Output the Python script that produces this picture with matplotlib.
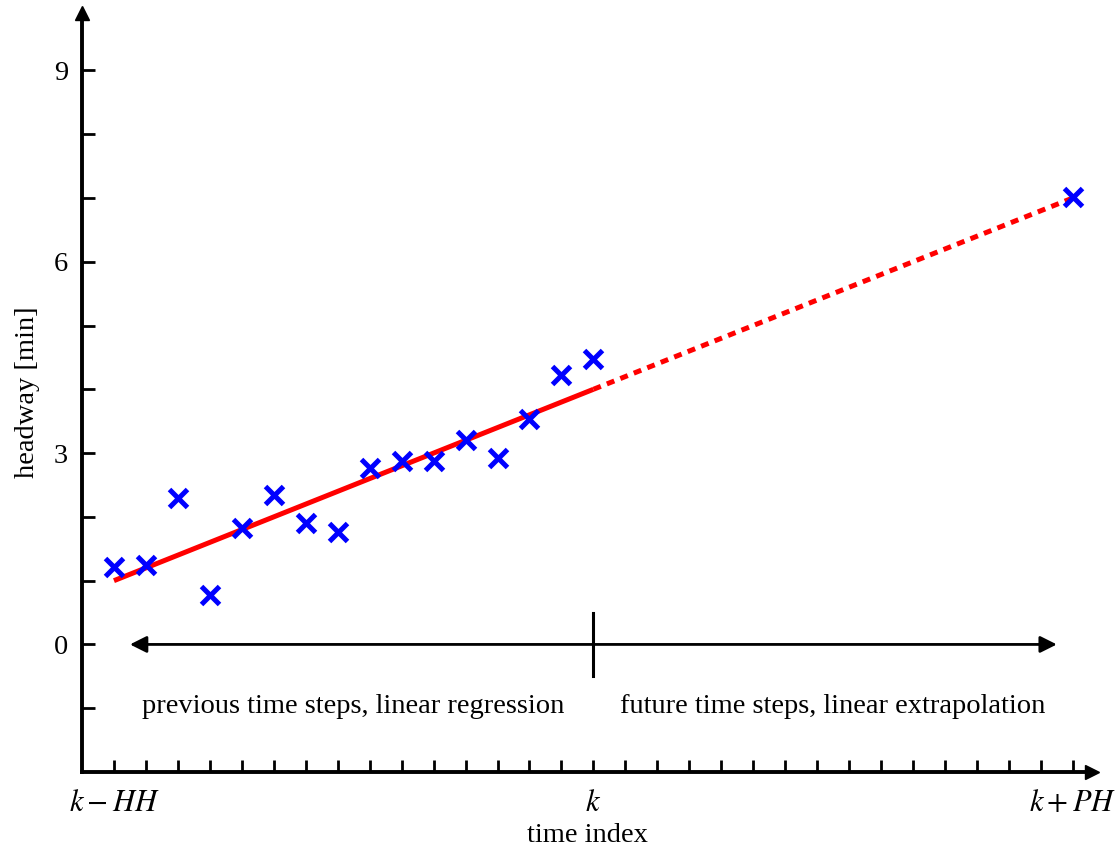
import matplotlib.pyplot as plt
import numpy as np

plt.rcParams["font.family"] = ["Liberation Serif", "DejaVu Serif"]
plt.rcParams["mathtext.fontset"] = "stix"

# time steps: 0 = k-HH, 15 = k, 30 = k+PH
steps = np.arange(16)
headway = [1.21, 1.24, 2.29, 0.78, 1.83, 2.34, 1.91, 1.76, 2.77, 2.88, 2.88, 3.20, 2.92, 3.53, 4.22, 4.47]
future_step = 30
future_headway = 7.02

fit_x = [0, 15]
fit_y = [1.0, 4.0]
extra_x = [15, 30]
extra_y = [4.0, 7.0]

xtick_pos = [0, 15, 30]
xtick_labels = [r"$k-HH$", r"$k$", r"$k+PH$"]
yticks_major = [0, 3, 6, 9]

fig = plt.figure(figsize=(11.17, 8.5), dpi=100)
ax = fig.add_axes([82 / 1117, 78 / 850, 1010 / 1117, 759 / 850])

ax.plot(fit_x, fit_y, color="red", lw=3.6, solid_capstyle="butt", zorder=2)
ax.plot(extra_x, extra_y, color="red", lw=3.6, dashes=(1.6, 1.3), zorder=2)
ax.plot(steps, headway, ls="", marker="x", ms=13, mew=3.6, color="blue", zorder=3)
ax.plot([future_step], [future_headway], ls="", marker="x", ms=13, mew=3.6, color="blue", zorder=3)

# Pfeil bei 0
ax.annotate("", xy=(29.5, 0), xytext=(0.5, 0),
            arrowprops=dict(arrowstyle="<|-|>", color="black", lw=2, mutation_scale=25,
                            shrinkA=0, shrinkB=0))
ax.plot([15, 15], [-0.5, 0.5], color="black", lw=2.2)
ax.text(7.5, -0.97, "previous time steps, linear regression", ha="center", va="center", fontsize=20.5)
ax.text(22.5, -0.97, "future time steps, linear extrapolation", ha="center", va="center", fontsize=20.5)

ax.set_xlim(-1, 30.6)
ax.set_ylim(-2, 9.9)
ax.spines["top"].set_visible(False)
ax.spines["right"].set_visible(False)
ax.spines["left"].set_linewidth(2.8)
ax.spines["bottom"].set_linewidth(2.8)
ax.plot(1, -2, ">k", ms=10, transform=ax.get_yaxis_transform(), clip_on=False)
ax.plot(-1, 1, "^k", ms=10, transform=ax.get_xaxis_transform(), clip_on=False)

ax.set_xticks(range(0, 31))
ax.set_xticklabels([xtick_labels[xtick_pos.index(i)] if i in xtick_pos else "" for i in range(0, 31)])
ax.set_yticks(range(-1, 10))
ax.set_yticklabels([str(v) if v in yticks_major else "" for v in range(-1, 10)])
ax.tick_params(direction="in", length=9, width=2, labelsize=20.5, pad=10)
ax.tick_params(axis="x", labelsize=22, pad=12)

ax.set_xlabel("time index", fontsize=20.5, labelpad=4)
ax.set_ylabel("headway [min]", fontsize=20.5, labelpad=10)

plt.savefig("out.png", dpi=100)
